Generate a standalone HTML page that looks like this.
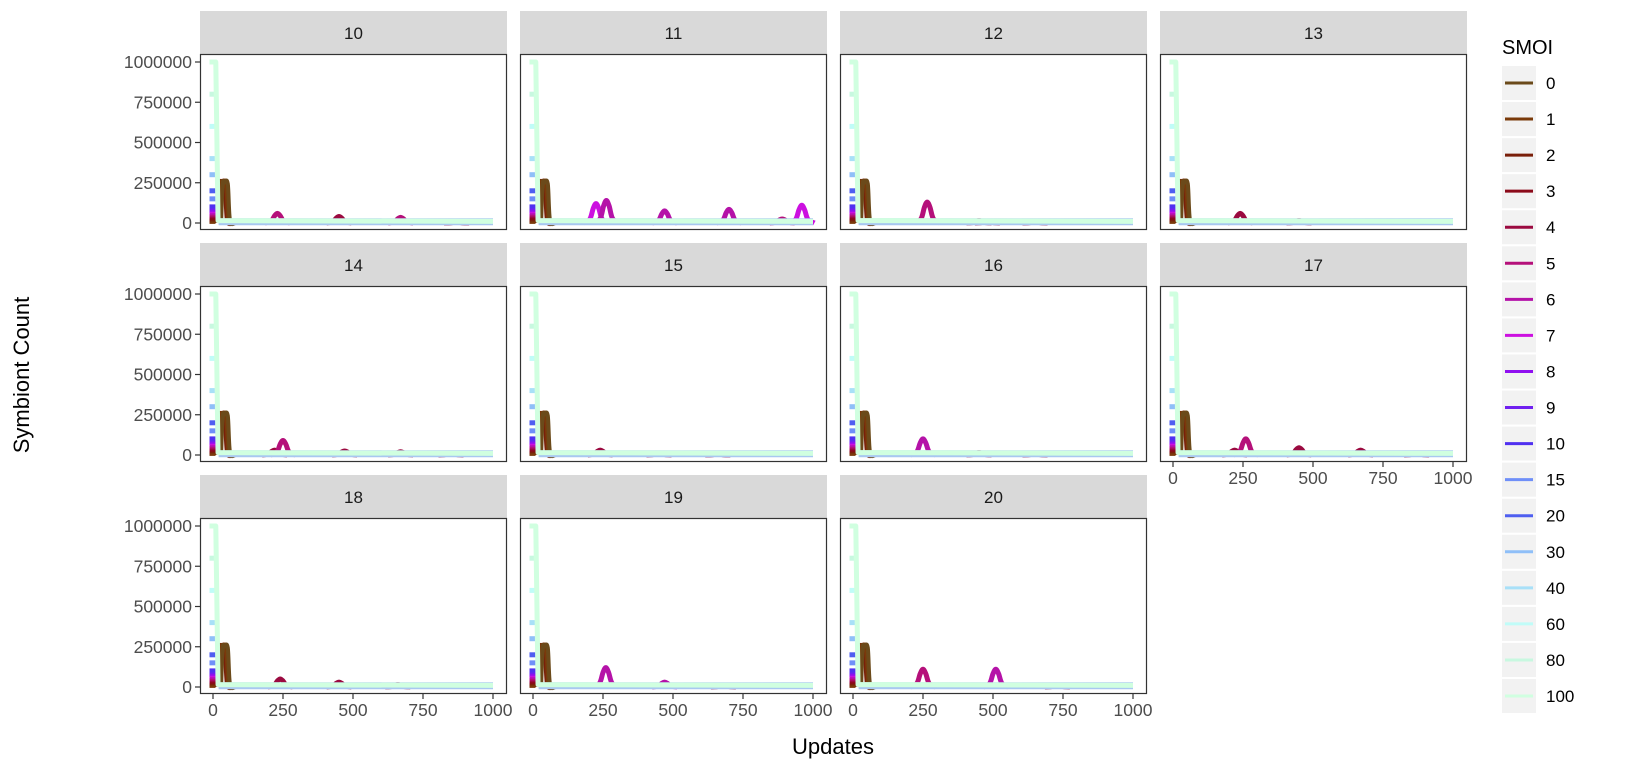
<!DOCTYPE html>
<html><head><meta charset="utf-8">
<style>
html,body{margin:0;padding:0;background:#fff;}
svg{display:block;font-family:"Liberation Sans",Arial,sans-serif;}
</style></head>
<body>
<svg id="chart" width="1626" height="769" viewBox="0 0 1626 769" xmlns="http://www.w3.org/2000/svg"></svg>
<script>
// ---- data ----
const facets = [10,11,12,13,14,15,16,17,18,19,20];
const smoiLevels = [0,1,2,3,4,5,6,7,8,9,10,15,20,30,40,60,80,100];
const smoiColors = ["#6b4a1a","#7a3a0a","#7a1f0a","#8b0a1a","#9b0a40","#b5107a","#b512a8","#cc10e0","#9010f0","#7020f0","#5030f0","#6f8ff8","#4f5ff0","#8fbff8","#a8e0f8","#c0fcf8","#c8f8e0","#d0ffe0"];
const initialCounts = [0,10000,20000,30000,40000,50000,60000,70000,80000,90000,100000,150000,200000,300000,400000,600000,800000,1000000];
const yTicks = [0,250000,500000,750000,1000000];
const yTickLabels = ["0","250000","500000","750000","1000000"];
const xTicks = [0,250,500,750,1000];
const xTickLabels = ["0","250","500","750","1000"];
const highSmoiX = [0,10,18,1000];
const highSmoiY = [1000000,1000000,15000,10000];
const spikeX = [18,24,30,42,50,70];
const spikeY = [0,240000,250000,245000,15000,0];
// per-facet peaks: centers, heights, series index
const peakCenters = [
 [230,450,670,870],
 [225,262,470,700,890,960],
 [265,450,480,650],
 [240,450],
 [220,250,470,670,850],
 [240,450,660],
 [250,450,650],
 [220,260,450,670,870],
 [240,450,660],
 [260,470,680],
 [250,510,730]
];
const peakHeights = [
 [60000,40000,35000,5000],
 [120000,140000,75000,85000,25000,110000],
 [130000,15000,12000,8000],
 [60000,15000],
 [30000,90000,25000,20000,10000],
 [30000,10000,5000],
 [100000,15000,8000],
 [30000,100000,45000,30000,10000],
 [50000,30000,15000],
 [120000,30000,10000],
 [110000,110000,10000]
];
const peakSeries = [
 [5,4,5,4],
 [7,6,6,6,5,7],
 [5,4,4,4],
 [4,4],
 [4,5,4,4,4],
 [4,4,4],
 [6,4,4],
 [4,5,4,4,4],
 [4,4,4],
 [6,6,4],
 [5,6,4]
];
// ---- layout ----
const NS="http://www.w3.org/2000/svg";
const svg=document.getElementById('chart');
function el(tag,attrs,parent){const e=document.createElementNS(NS,tag);for(const k in attrs)e.setAttribute(k,attrs[k]);(parent||svg).appendChild(e);return e;}
const colX0=200, colStep=320, pw=307;
const rowY0=11, rowStep=232, stripH=43, plotH=176;
function xScale(px0,v){return px0+13+v*0.28;}
function yScale(py0,v){return py0+212-v*0.000161;}
function smooth(pts){
  let d='M'+pts[0][0]+','+pts[0][1];
  for(let i=0;i<pts.length-1;i++){
    const p0=pts[Math.max(0,i-1)],p1=pts[i],p2=pts[i+1],p3=pts[Math.min(pts.length-1,i+2)];
    const c1=[p1[0]+(p2[0]-p0[0])/6,p1[1]+(p2[1]-p0[1])/6];
    const c2=[p2[0]-(p3[0]-p1[0])/6,p2[1]-(p3[1]-p1[1])/6];
    d+=' C'+c1[0]+','+c1[1]+' '+c2[0]+','+c2[1]+' '+p2[0]+','+p2[1];
  }
  return d;
}

facets.forEach((f,i)=>{
  const col=i%4,row=Math.floor(i/4);
  const px=colX0+col*colStep, top=rowY0+row*rowStep, ptop=top+stripH;
  const g=el('g',{});
  
  
  const strip=el('rect',{x:px,y:top,width:pw,height:stripH,fill:'#d9d9d9'},g);
  
  
  const st=el('text',{x:px+pw/2,y:top+28,'text-anchor':'middle','font-size':17,fill:'#1a1a1a'},g);
  st.textContent=f;
  
  
  el('rect',{x:px,y:ptop,width:pw,height:plotH,fill:'#fff'},g);
  const cp='cp'+i;
  const defs=el('defs',{},g);const c=el('clipPath',{id:cp},defs);el('rect',{x:px,y:ptop,width:pw,height:plotH},c);
  const lines=el('g',{'clip-path':'url(#'+cp+')'},g);
  initialCounts.forEach((v,k)=>{
    if(k===0)return;
    const r=el('rect',{x:xScale(px,0)-3.5,y:yScale(top,v)-2.5,width:6,height:5,fill:smoiColors[k]},lines);
    
    
  });
  for(let k=10;k>=1;k--){
    const r=el('line',{x1:xScale(px,0),x2:xScale(px,0),y1:yScale(top,0),y2:yScale(top,initialCounts[k]),stroke:smoiColors[k],'stroke-width':6},lines);
    
    
  }
  const spPts=spikeX.map((x,j)=>[xScale(px,x),yScale(top,spikeY[j])]);
  [2,1,0].forEach((k,q)=>{
    const p=el('path',{d:smooth(spPts.map(pt=>[pt[0]+q*1.5,pt[1]])),fill:'none',stroke:smoiColors[k],'stroke-width':4,'stroke-linejoin':'round'},lines);
    
    
  });
  peakCenters[i].forEach((cx,j)=>{
    const h=peakHeights[i][j];
    const xs=[cx-45,cx-22,cx-10,cx,cx+10,cx+22,cx+45];
    const ys=[0,h*0.2,h*0.75,h,h*0.75,h*0.2,0];
    const pts=xs.map((x,q)=>[xScale(px,x),yScale(top,ys[q])]);
    const p=el('path',{d:smooth(pts),fill:'none',stroke:smoiColors[peakSeries[i][j]],'stroke-width':5,'stroke-linejoin':'round'},lines);
    
    
  });
  const bl=el('line',{x1:xScale(px,20),x2:xScale(px,1000),y1:yScale(top,8000),y2:yScale(top,8000),stroke:'#a8c8f0','stroke-width':7},lines);
  
  
  const hp=highSmoiX.map((x,j)=>xScale(px,x)+','+yScale(top,highSmoiY[j])).join(' ');
  const hl=el('polyline',{points:hp,fill:'none',stroke:smoiColors[17],'stroke-width':5,'stroke-linejoin':'round'},lines);
  
  
  el('rect',{x:px+0.5,y:ptop+0.5,width:pw-1,height:plotH-1,fill:'none',stroke:'#333','stroke-width':1.2},g);
  if(col===0){
    yTicks.forEach((v,j)=>{
      const y=yScale(top,v);
      el('line',{x1:px-5,x2:px,y1:y,y2:y,stroke:'#333','stroke-width':1.2},g);
      const t=el('text',{x:px-8,y:y+6,'text-anchor':'end','font-size':17.5,fill:'#4d4d4d'},g);
      t.textContent=yTickLabels[j];
      
      
    });
  }
  if(row===2||i===7){
    const by=ptop+plotH;
    xTicks.forEach((v,j)=>{
      const x=xScale(px,v);
      el('line',{x1:x,x2:x,y1:by,y2:by+5,stroke:'#333','stroke-width':1.2},g);
      const t=el('text',{x:x,y:by+22,'text-anchor':'middle','font-size':17.5,fill:'#4d4d4d'},g);
      t.textContent=xTickLabels[j];
      
      
    });
  }
});
const xt=el('text',{x:833,y:754,'text-anchor':'middle','font-size':22,fill:'#000'});
xt.textContent='Updates';


const yt=el('text',{x:0,y:0,'text-anchor':'middle','font-size':22,fill:'#000',transform:'translate(29,375) rotate(-90)'});
yt.textContent='Symbiont Count';


const lg=el('g',{});


const lt=el('text',{x:1502,y:54,'font-size':20,fill:'#000'},lg);
lt.textContent='SMOI';


smoiLevels.forEach((s,k)=>{
  const y=65+k*36.06;
  const e=el('g',{},lg);
  
  
  el('rect',{x:1502,y:y+1,width:34,height:34,fill:'#f2f2f2'},e);
  el('line',{x1:1505,x2:1533,y1:y+18,y2:y+18,stroke:smoiColors[k],'stroke-width':3},e);
  const t=el('text',{x:1546,y:y+24,'font-size':17,fill:'#000'},e);
  t.textContent=s;
});
</script>
</body></html>
